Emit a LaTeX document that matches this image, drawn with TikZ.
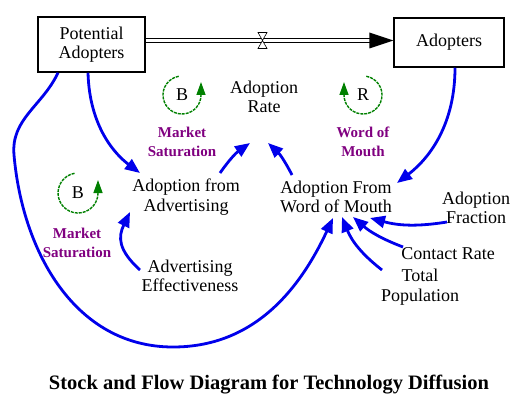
\documentclass[tikz,border=0pt]{standalone}
\usepackage{fontspec}
\setmainfont{Liberation Serif}
\usetikzlibrary{arrows.meta,calc}
\definecolor{flowblue}{RGB}{0,0,235}
\definecolor{loopgreen}{RGB}{0,128,0}
\definecolor{looppurple}{RGB}{128,0,128}
\begin{document}
\begin{tikzpicture}[x=1pt,y=1pt,
  lbl/.style={align=center, font=\fontsize{18}{19.5}\selectfont, inner sep=0pt},
  stock/.style={draw, line width=1.5pt, inner sep=0pt, align=center, font=\fontsize{18}{19.5}\selectfont},
  link/.style={draw=flowblue, line width=2.8pt, -{Triangle[length=15pt,width=12pt]}},
  loopname/.style={align=center, font=\fontsize{15}{19}\selectfont\bfseries, text=looppurple, inner sep=0pt},
  loopsym/.style={draw=loopgreen, line width=1.4pt, dash pattern=on 3pt off 1pt, -{Triangle[length=13pt,width=9pt]}},
  looplet/.style={font=\fontsize{18}{18}\selectfont, inner sep=0pt},
  pipe/.style={draw=black, double=white, double distance=3.6pt, line width=0.8pt},
]
\useasboundingbox (0,0) rectangle (526,410);
% stocks
\node[stock, minimum width=107pt, minimum height=55pt] (pa) at (91.5,365.5) {Potential\\Adopters};
\node[stock, minimum width=110pt, minimum height=49pt] (ad) at (449,367.5) {Adopters};
% flow
\draw[pipe] ([yshift=4pt]pa.east) -- ([xshift=-22pt,yshift=2pt]ad.west);
\fill ([yshift=2pt]ad.west) -- ++(-24,8) -- ++(0,-16) -- cycle;
\coordinate (valve) at (262.5,369.5);
\filldraw[fill=white, draw=black, line width=0.6pt] ($(valve)+(-4.5,8)$) -- ++(9,0) -- ++(-9,-16) -- ++(9,0) -- cycle;
% auxiliaries
\node[lbl] (rate) at (264,313) {Adoption\\Rate};
\node[lbl] (afa) at (186,213) {Adoption from\\Advertising};
\node[lbl] (wom) at (336,213) {Adoption From\\Word of Mouth};
\node[lbl] (ae) at (190,134) {Advertising\\Effectiveness};
\node[lbl] (af) at (476,202) {Adoption\\Fraction};
\node[lbl] (cr) at (448,156) {Contact Rate};
\node[lbl] (tp) at (420,123) {Total\\Population};
% loop labels
\node[loopname] (ms1) at (182,268) {Market\\Saturation};
\node[loopname] (wm) at (363,268) {Word of\\Mouth};
\node[loopname] (ms2) at (77,167) {Market\\Saturation};
% loop symbols
\node[looplet] (lb1) at (182,315) {B};
\draw[loopsym] ($(lb1)+(100:19)$) arc (100:360:19) -- ++(0,13);
\node[looplet] (lr) at (363,315) {R};
\draw[loopsym] ($(lr)+(80:19)$) arc (80:-180:19) -- ++(0,13);
\node[looplet] (lb2) at (78,217) {B};
\draw[loopsym] ($(lb2)+(100:20)$) arc (100:360:20) -- ++(0,13);
% links
\draw[link] ([xshift=-3.5pt]pa.south) .. controls ($(pa.south)+(-2,-55)$) and ($(afa)+(-70,42)$) .. ($(afa)+(-46,24)$);
\draw[link] ([xshift=-33.5pt]pa.south) to[out=245,in=95] (14,255) to[out=275,in=180] (173,63) to[out=0,in=245] ($(wom)+(-3,-21)$);
\draw[link] ([xshift=6pt]ad.south) .. controls ($(ad.south)+(6,-55)$) and ($(wom)+(95,40)$) .. ($(wom)+(61,14)$);
\draw[link] ($(afa)+(34,24)$) to[bend left=10] ($(rate)+(-14,-46)$);
\draw[link] ($(wom)+(-44,22)$) to[bend right=10] ($(rate)+(4,-46)$);
\draw[link] ($(ae)+(-50,6)$) .. controls ($(ae)+(-72,26)$) and ($(afa)+(-68,-40)$) .. ($(afa)+(-56,-15)$);
\draw[link] ($(af)+(-29,-14)$) to[bend left=12] ($(wom)+(34,-21)$);
\draw[link] ($(cr)+(-45,7)$) to[bend left=10] ($(wom)+(17,-20)$);
\draw[link] ($(tp)+(-38,17)$) to[bend left=15] ($(wom)+(6,-20)$);
% title
\node[font=\fontsize{20.5}{24}\selectfont\bfseries, inner sep=0pt] (title) at (269,25) {Stock and Flow Diagram for Technology Diffusion};
\end{tikzpicture}
\end{document}
